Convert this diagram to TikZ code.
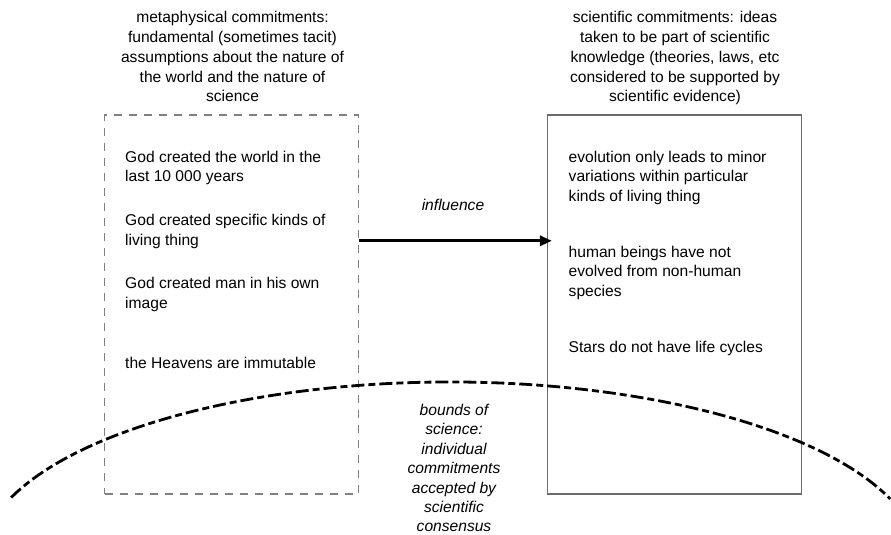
\documentclass[tikz,border=0pt]{standalone}
\usepackage{fontspec}
\setmainfont{Liberation Sans}
\usetikzlibrary{arrows.meta,calc}
\begin{document}
\begin{tikzpicture}[x=1pt,y=-1pt,
  txt/.style={inner sep=0pt, font=\fontsize{15.6}{19.7}\selectfont},
  item/.style={txt, align=left, anchor=base west},
  title/.style={txt, align=center, anchor=base},
  metabox/.style={draw=black!50, line width=1.2pt, dash pattern=on 8pt off 7pt,
    minimum width=254pt, minimum height=379pt, inner sep=0pt},
  scibox/.style={draw=black!58, line width=1.2pt,
    minimum width=254pt, minimum height=379pt, inner sep=0pt},
  arr/.style={line width=3pt, -{Triangle[length=12pt,width=10pt]}, shorten >=-5pt},
  bound/.style={line width=2.8pt, dash pattern=on 13pt off 4pt on 7pt off 4pt}
]
\useasboundingbox (0,0) rectangle (891,535);
\clip (0,0) rectangle (891,535);

% boxes
\node[metabox] (lbox) at (231.5,304.5) {};
\node[scibox] (rbox) at (674.5,304.5) {};

% bounds of science arc
\draw[bound] (11.2,497.5) arc[start angle=159, end angle=20.5, x radius=470pt, y radius=180pt];

% titles (base anchor = baseline of last line)
\node[title] (ltitle) at (232.5,101.8) {metaphysical commitments:\\fundamental (sometimes tacit)\\assumptions about the nature of\\the world and the nature of\\science};
\node[title] (rtitle) at (675,101.8) {scientific commitments: ideas\\taken to be part of scientific\\knowledge (theories, laws, etc\\considered to be supported by\\scientific evidence)};

% metaphysical commitments
\node[item] (m1) at (125,181.7) {God created the world in the\\last 10 000 years};
\node[item] (m2) at (125,245.2) {God created specific kinds of\\living thing};
\node[item] (m3) at (125,308.2) {God created man in his own\\image};
\node[item] (m4) at (125,368.5) {the Heavens are immutable};

% scientific commitments
\node[item] (s1) at (568.5,201.4) {evolution only leads to minor\\variations within particular\\kinds of living thing};
\node[item] (s2) at (568.5,296.4) {human beings have not\\evolved from non-human\\species};
\node[item] (s3) at (568.5,352) {Stars do not have life cycles};

% influence
\node[txt, anchor=base, font=\fontsize{15.6}{19.7}\selectfont\itshape] (infl) at (453,210) {influence};
\draw[arr] ($(lbox.north east)!0.3325!(lbox.south east)$) -- ($(rbox.north west)!0.3325!(rbox.south west)$);

% bounds label
\node[title, font=\fontsize{15.6}{19.4}\selectfont\itshape] (bnd) at (454,531.9) {bounds of\\science:\\individual\\commitments\\accepted by\\scientific\\consensus};
\end{tikzpicture}
\end{document}
